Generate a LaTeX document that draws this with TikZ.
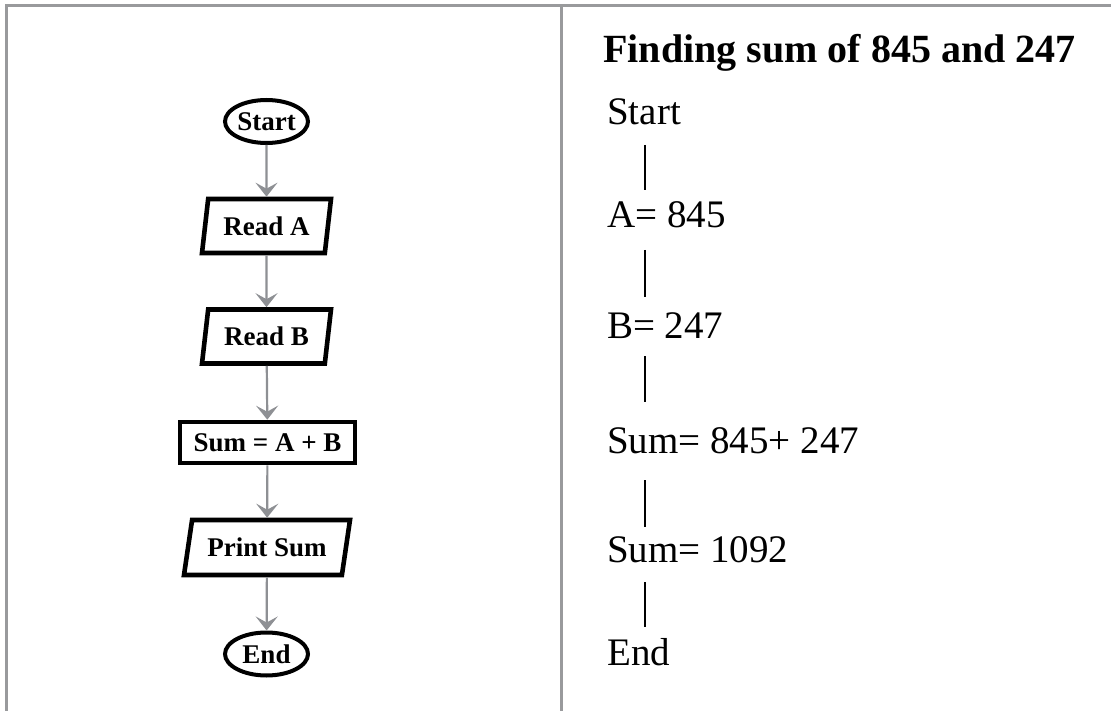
\documentclass[tikz,border=0pt]{standalone}
\usepackage{fontspec}
\setmainfont{Liberation Serif}
\usetikzlibrary{shapes.geometric,arrows.meta}
\definecolor{framegray}{HTML}{999A9C}
\definecolor{arrowgray}{HTML}{8E9094}
\begin{document}
\begin{tikzpicture}[x=1pt,y=-1pt,
  fbox/.style={draw=black,inner sep=0pt,font=\fontsize{27}{32}\selectfont\bfseries},
  term/.style={fbox,ellipse,line width=4pt,minimum width=83pt,minimum height=43pt},
  io/.style={fbox,trapezium,trapezium stretches body,line width=4.6pt,minimum width=129pt,minimum height=54pt},
  proc/.style={fbox,rectangle,line width=4.6pt,minimum width=175pt,minimum height=41pt},
  flow/.style={draw=arrowgray,line width=2.2pt,-{Stealth[length=14pt,width=22pt,inset=6pt]}},
  steptext/.style={anchor=base west,inner sep=0pt,font=\fontsize{39}{46}\selectfont},
  vline/.style={draw=black,line width=2.2pt},
  frame/.style={draw=framegray,line width=3pt}]
\useasboundingbox (0,0) rectangle (1111,711);
\fill[white] (0,0) rectangle (1111,711);
% frame
\coordinate (tl) at (6,6);
\coordinate (tr) at (1111,6);
\coordinate (bl) at (6,711);
\coordinate (dt) at (561,6);
\coordinate (db) at (561,711);
\draw[frame] (tr) -- (tl) -- (bl);
\draw[frame] (dt) -- (db);
% flowchart
\node[term] (start) at (266.5,121.5) {Start};
\node[io,trapezium left angle=72,trapezium right angle=108] (reada) at (266.5,226) {Read A};
\node[io,trapezium left angle=72,trapezium right angle=108] (readb) at (266.5,336.5) {Read B};
\node[proc] (sum) at (267.5,442.5) {Sum = A + B};
\node[io,minimum width=166pt,minimum height=55pt,trapezium left angle=67,trapezium right angle=113] (print) at (267,547.5) {Print Sum};
\node[term] (end) at (266.5,654) {End};
\draw[flow] (start) -- (reada);
\draw[flow] (reada) -- (readb);
\draw[flow] (readb) -- (sum);
\draw[flow] (sum) -- (print);
\draw[flow] (print) -- (end);
% right column
\node[steptext,font=\fontsize{40}{48}\selectfont\bfseries] (title) at (603,63) {Finding sum of 845 and 247};
\node[steptext] (s1) at (607,125) {Start};
\node[steptext] (s2) at (607,228) {A= 845};
\node[steptext] (s3) at (607,338) {B= 247};
\node[steptext] (s4) at (607,453) {Sum= 845+ 247};
\node[steptext] (s5) at (607,562) {Sum= 1092};
\node[steptext] (s6) at (607,665) {End};
\coordinate (l1a) at (645,145); \coordinate (l1b) at (645,190);
\coordinate (l2a) at (645,250); \coordinate (l2b) at (645,297);
\coordinate (l3a) at (645,356); \coordinate (l3b) at (645,402);
\coordinate (l4a) at (645,480); \coordinate (l4b) at (645,527);
\coordinate (l5a) at (645,582); \coordinate (l5b) at (645,627);
\draw[vline] (l1a) -- (l1b);
\draw[vline] (l2a) -- (l2b);
\draw[vline] (l3a) -- (l3b);
\draw[vline] (l4a) -- (l4b);
\draw[vline] (l5a) -- (l5b);
\end{tikzpicture}
\end{document}
